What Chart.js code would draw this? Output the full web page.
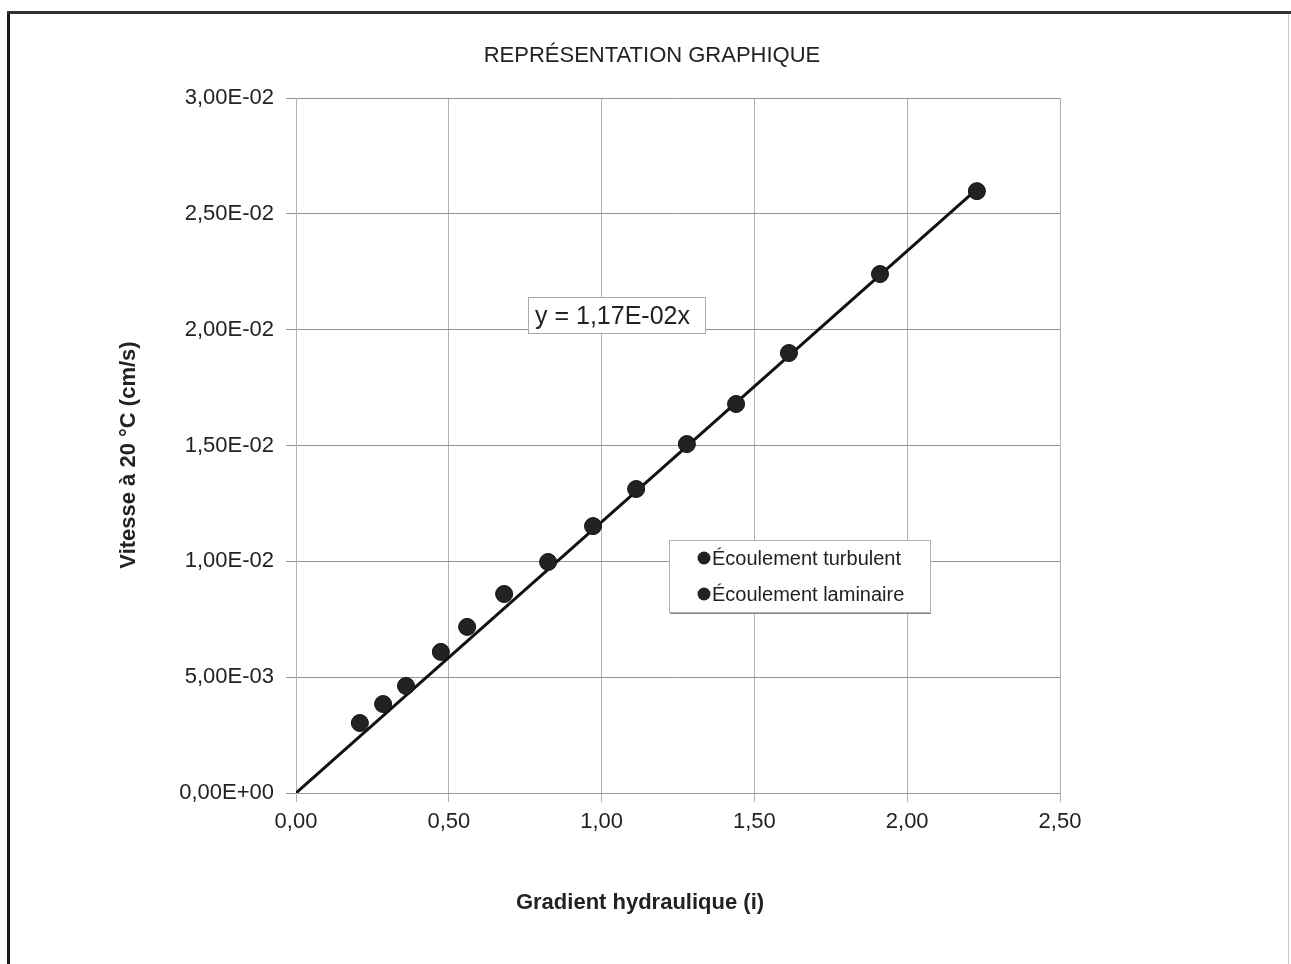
<!DOCTYPE html>
<html>
<head>
<meta charset="utf-8">
<script src="https://cdn.jsdelivr.net/npm/chart.js@4/dist/chart.umd.min.js"></script>
<style>
  html, body { margin: 0; padding: 0; background: #fff; }
  #wrap { position: relative; width: 1291px; height: 964px; }
</style>
</head>
<body>
<div id="wrap"><canvas id="c"></canvas></div>
<script>
// ---- Data ----
const chartTitle = "REPRÉSENTATION GRAPHIQUE";
const xAxisTitle = "Gradient hydraulique (i)";
const yAxisTitle = "Vitesse à 20 °C (cm/s)";
const equationText = "y = 1,17E-02x";

const turbulentLabel = "Écoulement turbulent";
const turbulentX = [0.825, 0.972, 1.113, 1.279, 1.440, 1.613, 1.911, 2.228];
const turbulentY = [0.00997, 0.01152, 0.01312, 0.01506, 0.01679, 0.01899, 0.02240, 0.02598];

const laminarLabel = "Écoulement laminaire";
const laminarX = [0.209, 0.285, 0.360, 0.474, 0.560, 0.681];
const laminarY = [0.00302, 0.00384, 0.00462, 0.00609, 0.00717, 0.00859];

// trend line y = 1.17E-02 x, drawn from origin to the last point
const trendX = [0, 2.228];
const trendY = [0, 0.02607];

const xMin = 0, xMax = 2.5, xStep = 0.5;
const yMin = 0, yMax = 0.03, yStep = 0.005;

const FONT = "'Liberation Sans', Arial, Helvetica, sans-serif";

function toPts(xs, ys) { return xs.map((x, i) => ({ x: x, y: ys[i] })); }

function fmtSci(v) {
  const s = Number(v).toExponential(2);
  let [m, e] = s.split('e');
  const sign = e[0] === '-' ? '-' : '+';
  let d = e.replace('+', '').replace('-', '');
  if (d.length < 2) d = '0' + d;
  return m.replace('.', ',') + 'E' + sign + d;
}
function fmtX(v) { return Number(v).toFixed(2).replace('.', ','); }

const decor = {
  id: 'decor',
  beforeDraw(chart) {
    const ctx = chart.ctx;
    ctx.save();
    ctx.fillStyle = '#fff';
    ctx.fillRect(0, 0, chart.width, chart.height);
    ctx.restore();
  },
  afterDraw(chart) {
    const ctx = chart.ctx;
    ctx.save();
    // outer frame
    ctx.strokeStyle = '#1a1a1a';
    ctx.lineWidth = 3;
    ctx.beginPath(); ctx.moveTo(8.5, 11); ctx.lineTo(8.5, 964); ctx.stroke();
    ctx.strokeStyle = '#333';
    ctx.beginPath(); ctx.moveTo(7, 12.5); ctx.lineTo(1291, 12.5); ctx.stroke();
    ctx.strokeStyle = '#c8c8c8';
    ctx.lineWidth = 1;
    ctx.beginPath(); ctx.moveTo(1288.5, 14); ctx.lineTo(1288.5, 964); ctx.stroke();

    // title
    ctx.fillStyle = '#222';
    ctx.textAlign = 'center';
    ctx.textBaseline = 'middle';
    ctx.font = "22px " + FONT;
    ctx.fillText(chartTitle, 652, 56);

    // axis titles
    ctx.font = "bold 22px " + FONT;
    ctx.fillText(xAxisTitle, 640, 903);
    ctx.save();
    ctx.translate(129, 455);
    ctx.rotate(-Math.PI / 2);
    ctx.fillText(yAxisTitle, 0, 0);
    ctx.restore();

    // equation box
    ctx.fillStyle = '#fff';
    ctx.fillRect(528, 297, 177, 36);
    ctx.strokeStyle = '#aaa';
    ctx.lineWidth = 1;
    ctx.strokeRect(528.5, 297.5, 177, 36);
    ctx.fillStyle = '#222';
    ctx.textAlign = 'left';
    ctx.font = "25px " + FONT;
    ctx.fillText(equationText, 535, 317);

    // legend
    ctx.fillStyle = '#fff';
    ctx.fillRect(669, 540, 261, 72);
    ctx.strokeStyle = '#b0b0b0';
    ctx.strokeRect(669.5, 540.5, 261, 72);
    ctx.strokeStyle = '#888';
    ctx.beginPath(); ctx.moveTo(670, 613.5); ctx.lineTo(931, 613.5); ctx.stroke();
    const items = chart.data.datasets.filter(d => !d.hideInLegend);
    items.forEach((d, i) => {
      const cy = 558 + i * 36;
      ctx.fillStyle = d.backgroundColor;
      ctx.beginPath(); ctx.arc(704, cy, 6.5, 0, Math.PI * 2); ctx.fill();
      ctx.fillStyle = '#222';
      ctx.font = "20px " + FONT;
      ctx.textAlign = 'left';
      ctx.fillText(d.label, 712, cy + 1);
    });
    ctx.restore();
  }
};

new Chart(document.getElementById('c'), {
  type: 'scatter',
  data: {
    datasets: [
      {
        label: 'trend',
        hideInLegend: true,
        data: toPts(trendX, trendY),
        showLine: true,
        borderColor: '#111',
        borderWidth: 3,
        pointRadius: 0,
        order: 3
      },
      {
        label: turbulentLabel,
        data: toPts(turbulentX, turbulentY),
        backgroundColor: '#222',
        borderColor: '#111',
        borderWidth: 1,
        pointRadius: 8.5,
        order: 1
      },
      {
        label: laminarLabel,
        data: toPts(laminarX, laminarY),
        backgroundColor: '#222',
        borderColor: '#111',
        borderWidth: 1,
        pointRadius: 8.5,
        order: 1
      }
    ]
  },
  options: {
    responsive: true,
    maintainAspectRatio: false,
    devicePixelRatio: 1,
    animation: false,
    layout: { padding: { top: 98, right: 231, bottom: 0, left: 0 } },
    plugins: {
      legend: { display: false },
      title: { display: false },
      tooltip: { enabled: false }
    },
    scales: {
      x: {
        type: 'linear',
        min: xMin, max: xMax,
        afterFit(scale) { scale.height = 171; },
        ticks: {
          stepSize: xStep,
          color: '#222',
          font: { family: FONT, size: 22 },
          padding: 7,
          maxRotation: 0,
          callback: v => fmtX(v)
        },
        grid: { color: '#b4b4b4', lineWidth: 1, tickLength: 9 },
        border: { color: '#999', width: 1 }
      },
      y: {
        type: 'linear',
        min: yMin, max: yMax,
        afterFit(scale) { scale.width = 296; },
        ticks: {
          stepSize: yStep,
          color: '#222',
          font: { family: FONT, size: 22 },
          padding: 12,
          callback: v => fmtSci(v)
        },
        grid: { color: '#949494', lineWidth: 1, tickLength: 10 },
        border: { color: '#b4b4b4', width: 1 }
      }
    }
  },
  plugins: [decor]
});
</script>
</body>
</html>
